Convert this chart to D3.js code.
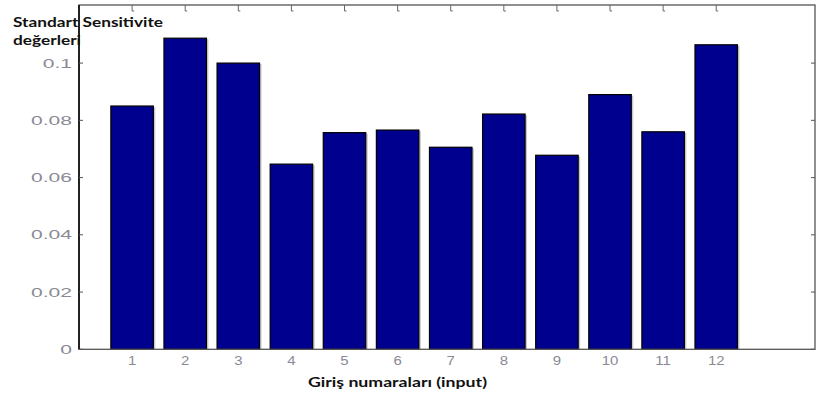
<!DOCTYPE html>
<html>
<head>
<meta charset="utf-8">
<script src="https://cdn.jsdelivr.net/npm/d3@7"></script>
<style>
  html, body { margin: 0; padding: 0; background: #fff; }
  svg { display: block; }
</style>
</head>
<body>
<svg id="chart" width="821" height="398"></svg>
<script>
// Input numbers and their standard sensitivity values
const inputs = [1, 2, 3, 4, 5, 6, 7, 8, 9, 10, 11, 12];
const sensitivity = [0.0850, 0.1087, 0.1000, 0.0647, 0.0757, 0.0766, 0.0706, 0.0822, 0.0678, 0.0890, 0.0760, 0.1064];
const yTicks = [0, 0.02, 0.04, 0.06, 0.08, 0.1];
const yTickLabels = ["0", "0.02", "0.04", "0.06", "0.08", "0.1"];
const xLimits = [0, 13.86];
const yLimits = [0, 0.1203];
const barWidth = 0.8;

const svg = d3.select("#chart");
const box = { left: 79, right: 815, top: 5, bottom: 349.3 };

const x = d3.scaleLinear().domain(xLimits).range([box.left, box.right]);
const y = d3.scaleLinear().domain(yLimits).range([box.bottom, box.top]);

const bars = inputs.map((n, i) => ({ n, v: sensitivity[i] }));

// soft grey shading on the right side of each bar
svg.append("g").selectAll("rect")
  .data(bars).join("rect")
  .attr("x", d => x(d.n - barWidth / 2) + 2)
  .attr("y", d => y(d.v) + 1)
  .attr("width", d => x(d.n + barWidth / 2) - x(d.n - barWidth / 2))
  .attr("height", d => y(0) - y(d.v) - 1)
  .attr("fill", "#c9c9c9");

// bars
svg.append("g").selectAll("rect")
  .data(bars).join("rect")
  .attr("x", d => x(d.n - barWidth / 2))
  .attr("y", d => y(d.v))
  .attr("width", d => x(d.n + barWidth / 2) - x(d.n - barWidth / 2))
  .attr("height", d => y(0) - y(d.v))
  .attr("fill", "#00008f")
  .attr("stroke", "#000")
  .attr("stroke-width", 1.2);

// frame
const frame = svg.append("g").attr("fill", "none");
frame.append("rect")
  .attr("x", box.left).attr("y", box.top)
  .attr("width", box.right - box.left).attr("height", box.bottom - box.top)
  .attr("stroke", "#555").attr("stroke-width", 1.3);
frame.append("line")
  .attr("x1", box.left).attr("x2", box.left)
  .attr("y1", box.top).attr("y2", box.bottom)
  .attr("stroke", "#222").attr("stroke-width", 2);

// y ticks on both sides, pointing inward
const tickLen = 4;
svg.append("g").selectAll("line.yl")
  .data(yTicks).join("line")
  .attr("x1", box.left).attr("x2", box.left + tickLen)
  .attr("y1", d => y(d)).attr("y2", d => y(d))
  .attr("stroke", "#555");
svg.append("g").selectAll("line.yr")
  .data(yTicks).join("line")
  .attr("x1", box.right - tickLen).attr("x2", box.right)
  .attr("y1", d => y(d)).attr("y2", d => y(d))
  .attr("stroke", "#555");

// top ticks at each input position
svg.append("g").selectAll("path")
  .data(inputs).join("path")
  .attr("d", d => `M${x(d)},${box.top} v6 h2`)
  .attr("fill", "none")
  .attr("stroke", "#666")
  .attr("stroke-width", 1);

// y tick labels (wide, light grey)
svg.append("g").selectAll("text")
  .data(yTicks).join("text")
  .attr("transform", d => `translate(72,${y(d) + 4.5}) scale(1.62,1)`)
  .attr("text-anchor", "end")
  .attr("font-family", "'Liberation Sans', Arial, sans-serif")
  .attr("font-size", 13)
  .attr("fill", "#8a8a96")
  .text((d, i) => yTickLabels[i]);

// x tick labels
svg.append("g").selectAll("text")
  .data(inputs).join("text")
  .attr("transform", d => `translate(${x(d)},365) scale(1.15,1)`)
  .attr("text-anchor", "middle")
  .attr("font-family", "'Liberation Sans', Arial, sans-serif")
  .attr("font-size", 13)
  .attr("fill", "#8a8a96")
  .text(d => d);

// axis titles
const titleFont = "Lato, 'Open Sans', sans-serif";
svg.append("text")
  .attr("x", 13).attr("y", 27)
  .attr("font-family", titleFont).attr("font-weight", "bold")
  .attr("font-size", 13.5).attr("fill", "#111")
  .attr("textLength", 150).attr("lengthAdjust", "spacingAndGlyphs")
  .text("Standart Sensitivite");
svg.append("text")
  .attr("x", 13).attr("y", 45)
  .attr("font-family", titleFont).attr("font-weight", "bold")
  .attr("font-size", 13.5).attr("fill", "#111")
  .attr("textLength", 68).attr("lengthAdjust", "spacingAndGlyphs")
  .text("değerleri");
svg.append("text")
  .attr("x", 308).attr("y", 387)
  .attr("font-family", titleFont).attr("font-weight", "bold")
  .attr("font-size", 13.5).attr("fill", "#111")
  .attr("textLength", 179).attr("lengthAdjust", "spacingAndGlyphs")
  .text("Giriş numaraları (input)");
</script>
</body>
</html>
